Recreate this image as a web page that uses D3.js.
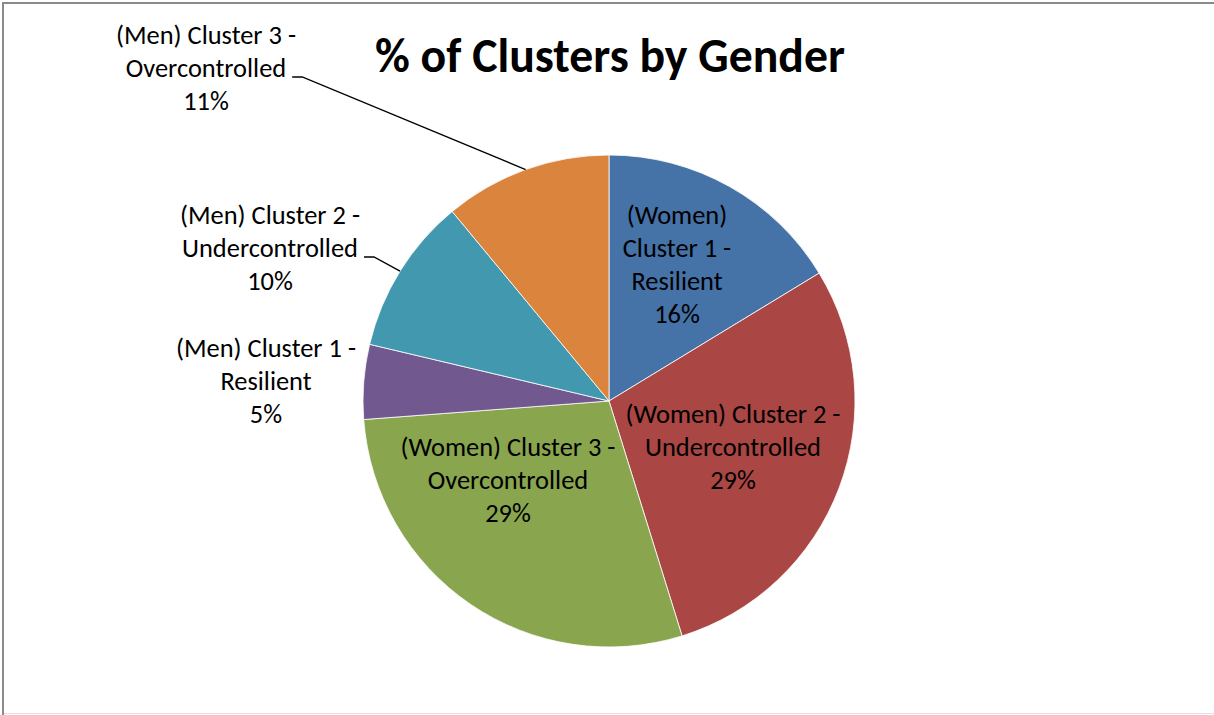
<!DOCTYPE html>
<html>
<head>
<meta charset="utf-8">
<script src="https://cdn.jsdelivr.net/npm/d3@7"></script>
<style>
  body { margin: 0; background: #fff; }
  svg { display: block; }
</style>
</head>
<body>
<script>
// datos del grafico
const chartTitle = '% of Clusters by Gender';
const clusters = [
  '(Women) Cluster 1 - Resilient',
  '(Women) Cluster 2 - Undercontrolled',
  '(Women) Cluster 3 - Overcontrolled',
  '(Men) Cluster 1 - Resilient',
  '(Men) Cluster 2 - Undercontrolled',
  '(Men) Cluster 3 - Overcontrolled'
];
const shares = [16.3, 28.9, 28.6, 4.9, 10.3, 11.0];
const colors = ['#4572A7', '#AA4643', '#89A54E', '#71588F', '#4198AF', '#DB843D'];

// layout (centro de cada etiqueta, en px del svg)
const width = 1214, height = 715;
const cx = 609, cy = 401, radius = 246;
const labelAt = [[677, 264], [733, 447], [508, 480], [266, 381], [270, 248], [206, 68]];
const withLeader = [false, false, false, false, true, true];
const narrowLabel = [true, false, false, false, false, false];
const lineGap = 33;
const font = 'Carlito, Lato, "Open Sans", sans-serif';

const svg = d3.select('body').append('svg')
  .attr('width', width)
  .attr('height', height);

// borde del area del grafico (solo izquierda/arriba visibles, abajo tenue)
svg.append('path')
  .attr('d', `M3,${height} L3,3 L${width},3`)
  .attr('fill', 'none')
  .attr('stroke', '#8a8a8a')
  .attr('stroke-width', 2);
svg.append('line')
  .attr('x1', 4).attr('x2', width)
  .attr('y1', height - 1.5).attr('y2', height - 1.5)
  .attr('stroke', '#e2e2e2')
  .attr('stroke-width', 1);

// ajusta tamaño de letra a un ancho medido en la imagen
function fitSize(txt, target, weight) {
  const t = svg.append('text')
    .style('font-family', font)
    .style('font-weight', weight)
    .style('font-size', '100px')
    .text(txt);
  const w = t.node().getComputedTextLength();
  t.remove();
  return 100 * target / w;
}
const labelSize = fitSize('Undercontrolled', 176, 400);
const titleSize = fitSize(chartTitle, 470, 700);

svg.append('text')
  .attr('x', 610)
  .attr('y', 72)
  .attr('text-anchor', 'middle')
  .style('font-family', font)
  .style('font-weight', 700)
  .style('font-size', titleSize + 'px')
  .style('fill', '#000')
  .text(chartTitle);

const total = d3.sum(shares);
const pie = d3.pie().sort(null).value(d => d)(shares);
const arc = d3.arc().innerRadius(0).outerRadius(radius);

const g = svg.append('g').attr('transform', `translate(${cx},${cy})`);

g.selectAll('path.slice')
  .data(pie)
  .enter()
  .append('path')
  .attr('class', 'slice')
  .attr('d', arc)
  .attr('fill', (d, i) => colors[i])
  .attr('stroke', '#fff')
  .attr('stroke-width', 0.8);

// lineas de texto por etiqueta
function labelLines(i) {
  const parts = clusters[i].split(' - ');
  let lines = [parts[0] + ' -', parts[1]];
  if (narrowLabel[i]) {
    const sp = parts[0].indexOf(' ');
    lines = [parts[0].slice(0, sp), parts[0].slice(sp + 1) + ' -', parts[1]];
  }
  lines.push(Math.round(shares[i] / total * 100) + '%');
  return lines;
}

pie.forEach((d, i) => {
  const lines = labelLines(i);
  const [lx, ly] = labelAt[i];
  const t = svg.append('text')
    .attr('text-anchor', 'middle')
    .style('font-family', font)
    .style('font-size', labelSize + 'px')
    .style('fill', '#000');
  const spans = lines.map((ln, k) => t.append('tspan')
    .attr('x', lx)
    .attr('y', ly + (k - (lines.length - 1) / 2) * lineGap)
    .attr('dy', '0.35em')
    .text(ln));

  if (withLeader[i]) {
    const mid = (d.startAngle + d.endAngle) / 2;
    const ex = cx + radius * Math.sin(mid);
    const ey = cy - radius * Math.cos(mid);
    const midLine = spans[1].node().getComputedTextLength();
    const sx = lx + midLine / 2 + 6;
    const sy = ly + 9;
    svg.append('path')
      .attr('d', d3.line()([[sx, sy], [sx + 10, sy], [ex, ey]]))
      .attr('fill', 'none')
      .attr('stroke', '#000')
      .attr('stroke-width', 1.3);
  }
});
</script>
</body>
</html>
